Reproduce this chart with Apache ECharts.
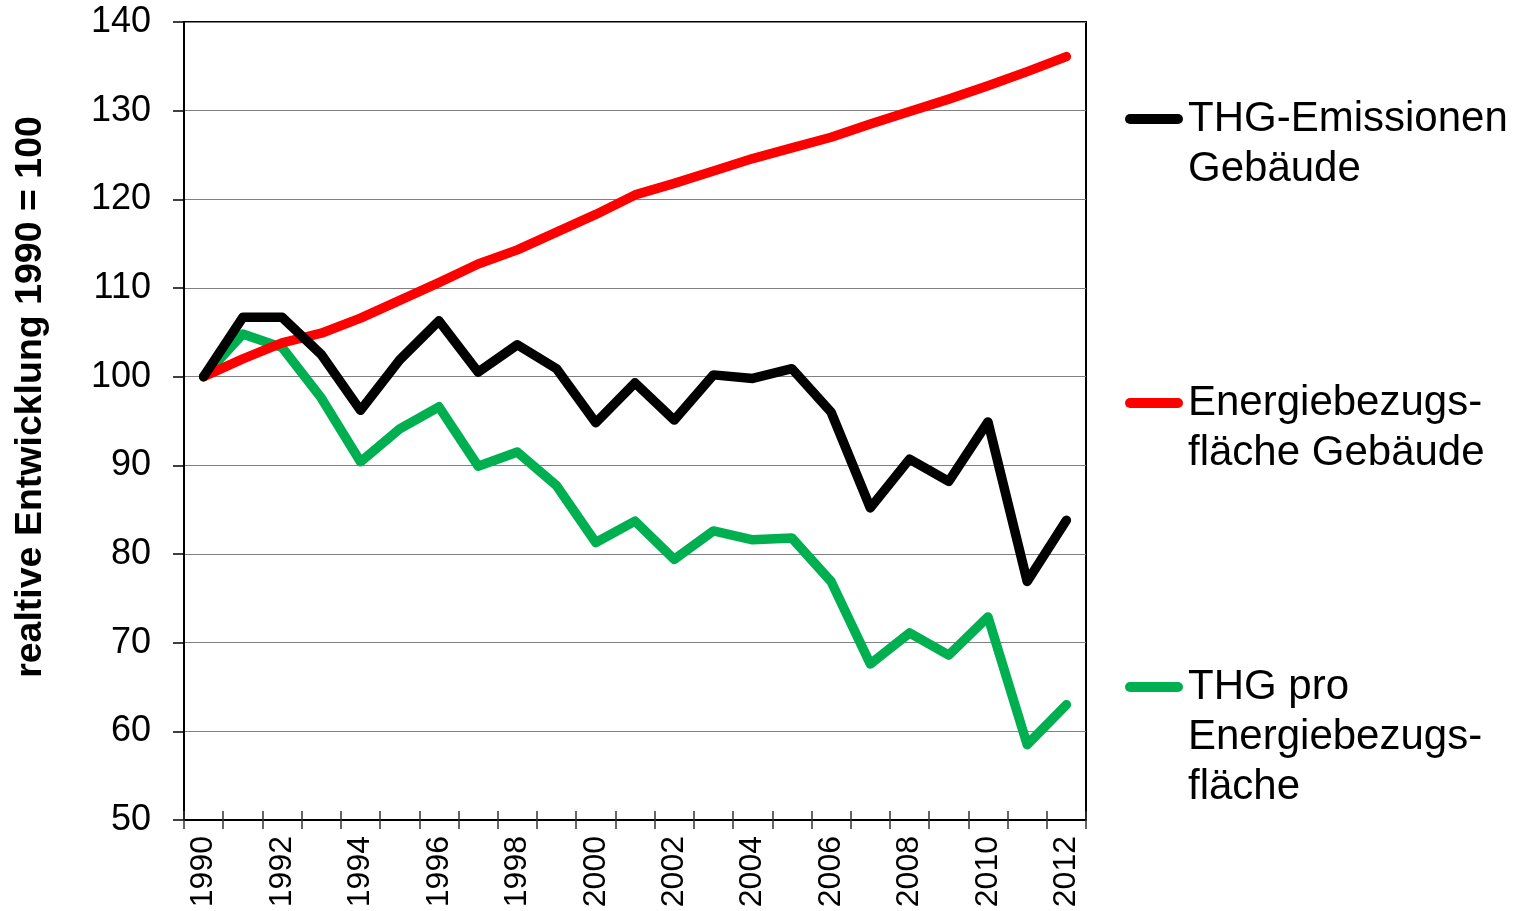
<!DOCTYPE html>
<html>
<head>
<meta charset="utf-8">
<script src="https://cdn.jsdelivr.net/npm/echarts@6/dist/echarts.min.js"></script>
<style>
html,body{margin:0;padding:0;background:#fff;}
#chart{width:1529px;height:911px;}
</style>
</head>
<body>
<div id="chart"></div>
<script>
var years = ['1990','1991','1992','1993','1994','1995','1996','1997','1998','1999','2000','2001','2002','2003','2004','2005','2006','2007','2008','2009','2010','2011','2012'];
var thgEmissionen = [100, 106.7, 106.7, 102.5, 96.2, 101.9, 106.3, 100.5, 103.6, 100.9, 94.8, 99.3, 95.1, 100.2, 99.8, 100.9, 96.0, 85.2, 90.7, 88.2, 94.9, 76.9, 83.8];
var energiebezugsflaeche = [100, 102.0, 103.8, 104.9, 106.6, 108.6, 110.6, 112.7, 114.3, 116.3, 118.3, 120.5, 121.8, 123.2, 124.6, 125.8, 127.0, 128.5, 129.9, 131.3, 132.8, 134.4, 136.1];
var thgProFlaeche = [100, 104.8, 103.3, 97.6, 90.4, 94.1, 96.6, 89.9, 91.5, 87.7, 81.3, 83.7, 79.4, 82.6, 81.6, 81.8, 76.9, 67.6, 71.1, 68.6, 72.9, 58.5, 63.0];
var seriesNames = ['THG-Emissionen Gebäude', 'Energiebezugsfläche Gebäude', 'THG pro Energiebezugsfläche'];
var legendLabels = ['THG-Emissionen\nGebäude', 'Energiebezugs-\nfläche Gebäude', 'THG pro\nEnergiebezugs-\nfläche'];
var seriesColors = ['#000000', '#ff0000', '#00b050'];
var yAxisTitle = 'realtive Entwicklung 1990 = 100';

var FONT = '"Liberation Sans", Arial, sans-serif';
var chart = echarts.init(document.getElementById('chart'));
var capsule = 'path://M5,0 L53,0 A5,5 0 0 1 53,10 L5,10 A5,5 0 0 1 5,0 Z';
var LH = 50;
var legendIconY = [118, 402, 686];

function makeLegend(i) {
  var lines = legendLabels[i].split('\n').length;
  var pre = '';
  for (var k = 1; k < lines; k++) pre += ' \n';
  var total = lines * 2 - 1;
  return {
    data: [seriesNames[i]],
    orient: 'vertical',
    left: 1125,
    top: legendIconY[i] + 1 - total * LH / 2,
    padding: 0,
    itemGap: 0,
    itemWidth: 58,
    itemHeight: 10,
    icon: capsule,
    selectedMode: false,
    formatter: function () { return pre + legendLabels[i]; },
    textStyle: { fontSize: 42, color: '#000', fontFamily: FONT, lineHeight: LH }
  };
}

var datasets = [thgEmissionen, energiebezugsflaeche, thgProFlaeche];
var series = datasets.map(function (d, i) {
  return {
    name: seriesNames[i],
    type: 'line',
    data: d,
    symbol: 'none',
    xAxisIndex: 0,
    z: 3 - i + 2,
    lineStyle: { color: seriesColors[i], width: 9.5, cap: 'round', join: 'round' },
    itemStyle: { color: seriesColors[i] }
  };
});

chart.setOption({
  animation: false,
  backgroundColor: '#ffffff',
  grid: {
    left: 184, right: 443, top: 22, bottom: 91,
    show: true, borderColor: '#000', borderWidth: 2, backgroundColor: 'transparent'
  },
  legend: [makeLegend(0), makeLegend(1), makeLegend(2)],
  xAxis: [{
    type: 'category',
    data: years,
    boundaryGap: true,
    axisLine: { show: true, lineStyle: { color: '#000', width: 2 } },
    axisTick: { show: true, interval: 0, length: 9, lineStyle: { color: '#333', width: 1.5 } },
    axisLabel: { interval: 1, rotate: 90, fontSize: 32, color: '#000', fontFamily: FONT, margin: 16 },
    splitLine: { show: false }
  }, {
    type: 'category',
    data: years,
    boundaryGap: true,
    position: 'bottom',
    axisLine: { show: false },
    axisTick: { show: true, inside: true, interval: 0, length: 9, lineStyle: { color: '#333', width: 1.5 } },
    axisLabel: { show: false },
    splitLine: { show: false }
  }],
  yAxis: {
    type: 'value',
    min: 50, max: 140, interval: 10,
    name: yAxisTitle,
    nameLocation: 'middle',
    nameRotate: 90,
    nameGap: 134,
    nameTextStyle: { fontSize: 37.5, fontWeight: 'bold', color: '#000', fontFamily: FONT, padding: [0, 0, 0, 48] },
    axisLine: { show: true, lineStyle: { color: '#000', width: 2 } },
    axisTick: { show: true, length: 11, lineStyle: { color: '#000', width: 1.5 } },
    axisLabel: { fontSize: 36, color: '#000', fontFamily: FONT, margin: 33 },
    splitLine: { show: true, lineStyle: { color: '#808080', width: 1.2 } }
  },
  series: series
});
</script>
</body>
</html>
